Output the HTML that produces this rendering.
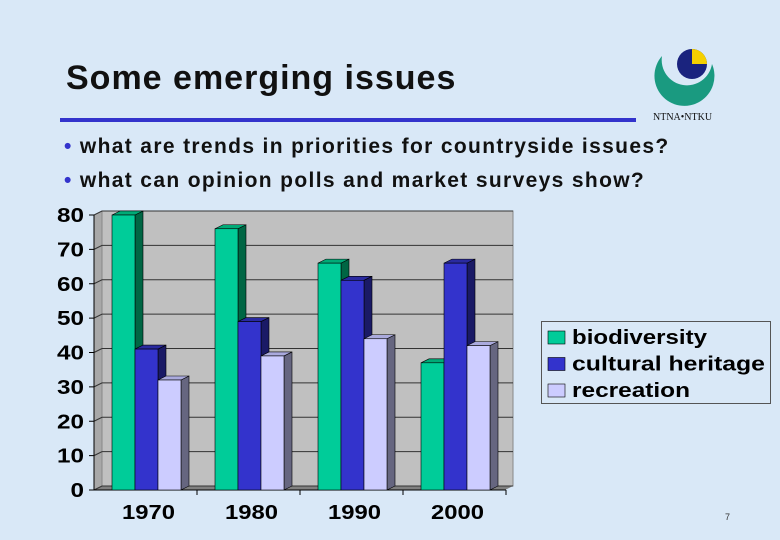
<!DOCTYPE html>
<html><head><meta charset="utf-8"><style>
body{margin:0;width:780px;height:540px;overflow:hidden;background:#d9e8f7;font-family:"Liberation Sans",Arial,sans-serif;position:relative}
.t{position:absolute;white-space:nowrap}
</style></head><body>
<div class="t" style="left:66px;top:59px;font-size:34px;letter-spacing:1px;font-weight:bold;color:#111">Some emerging issues</div>
<div style="position:absolute;left:60px;top:118px;width:576px;height:4px;background:#3333cc"></div>
<div class="t" style="left:64px;top:135px;font-size:21px;letter-spacing:1.35px;font-weight:bold;color:#111"><span style="color:#3333cc">•</span> what are trends in priorities for countryside issues?</div>
<div class="t" style="left:64px;top:169px;font-size:21px;letter-spacing:1.35px;font-weight:bold;color:#111"><span style="color:#3333cc">•</span> what can opinion polls and market surveys show?</div>
<svg style="position:absolute;left:650px;top:44px" width="80" height="80">
<path d="M12 12 A30 30 0 1 0 62 20 A24 24 0 1 1 12 12Z" fill="#1a9a80"/>
<circle cx="42" cy="20" r="15" fill="#1a237e"/>
<path d="M42 5 A15 15 0 0 1 57 20 L42 20Z" fill="#f5d000"/>
<text x="3" y="76" font-size="10" font-family="Liberation Serif" fill="#111">NTNA•NTKU</text>
</svg>
<svg id="chart" style="position:absolute;left:0;top:0" width="780" height="540"></svg>
<div class="t" style="left:725px;top:512px;font-size:9px;color:#333">7</div>
<script>
const categories=["1970","1980","1990","2000"];
const seriesNames=["biodiversity","cultural heritage","recreation"];
const biodiversity=[80,76,66,37];
const cultural=[41,49,61,66];
const recreation=[32,39,44,42];
const yTicks=[0,10,20,30,40,50,60,70,80];
const svg=document.getElementById('chart');const NS='http://www.w3.org/2000/svg';
function el(t,a){const e=document.createElementNS(NS,t);for(const k in a)e.setAttribute(k,a[k]);svg.appendChild(e);return e;}
const x0=94,y0=490,pxu=275/80,cw=103,dx=8,dy=4,bw=23;
const yS=v=>y0-v*pxu;
let w=el('polygon',{points:`${x0},${y0} ${x0+dx},${y0-dy} ${x0+dx},${yS(80)-dy} ${x0},${yS(80)}`,fill:'#a8a8a8'});

w=el('rect',{x:x0+dx,y:yS(80)-dy,width:411,height:275,fill:'#c0c0c0',stroke:'#888'});

w=el('polygon',{points:`${x0},${y0} ${x0+dx},${y0-dy} ${x0+dx+411},${y0-dy} ${x0+411},${y0}`,fill:'#808080'});

yTicks.forEach(v=>{const y=yS(v);
let g=el('polyline',{points:`${x0},${y} ${x0+dx},${y-dy} ${x0+dx+411},${y-dy}`,fill:'none',stroke:'#333','stroke-width':1});

el('line',{x1:x0-5,y1:y,x2:x0,y2:y,stroke:'#000'});
const tw=String(v).length*13.5;
let t=el('text',{x:x0-10,y:y+7,'text-anchor':'end','font-size':20,'font-weight':'bold','font-family':'Liberation Sans',textLength:tw,lengthAdjust:'spacingAndGlyphs'});
t.textContent=v;});
el('line',{x1:x0,y1:yS(80),x2:x0,y2:y0,stroke:'#000'});
el('line',{x1:x0,y1:y0,x2:x0+412,y2:y0,stroke:'#000'});
const series=[biodiversity,cultural,recreation];
const cols=[['#00cc99','#006644','#00aa77'],['#3333cc','#1a1a66','#2a2aa0'],['#ccccff','#666680','#aaaadd']];
categories.forEach((c,i)=>{const gx=x0+i*cw;
el('line',{x1:gx+cw,y1:y0,x2:gx+cw,y2:y0+5,stroke:'#000'});
let t=el('text',{x:gx+cw/2+3,y:y0+29,'text-anchor':'middle','font-size':20,'font-weight':'bold','font-family':'Liberation Sans',textLength:53,lengthAdjust:'spacingAndGlyphs'});
t.textContent=c;
series.forEach((s,j)=>{const x=gx+18+j*bw,y=yS(s[i]),h=y0-y,col=cols[j];
let r=el('polygon',{points:`${x+bw},${y} ${x+bw+dx},${y-dy} ${x+bw+dx},${y0-dy} ${x+bw},${y0}`,fill:col[1],stroke:'#000','stroke-width':0.6});

r=el('polygon',{points:`${x},${y} ${x+dx},${y-dy} ${x+bw+dx},${y-dy} ${x+bw},${y}`,fill:col[2],stroke:'#000','stroke-width':0.6});

r=el('rect',{x:x,y:y,width:bw,height:h,fill:col[0],stroke:'#000','stroke-width':0.6});
});});
let lg=el('rect',{x:541.5,y:321.5,width:229,height:82,fill:'none',stroke:'#555'});

const legW=[135,193,118];
seriesNames.forEach((n,j)=>{const y=331+j*26.5;
let r=el('rect',{x:548,y:y,width:17,height:13,fill:cols[j][0],stroke:'#000','stroke-width':0.6});

let t=el('text',{x:572,y:y+13,'font-size':20,'font-weight':'bold','font-family':'Liberation Sans',textLength:legW[j],lengthAdjust:'spacingAndGlyphs'});
t.textContent=n;});
</script>
</body></html>
